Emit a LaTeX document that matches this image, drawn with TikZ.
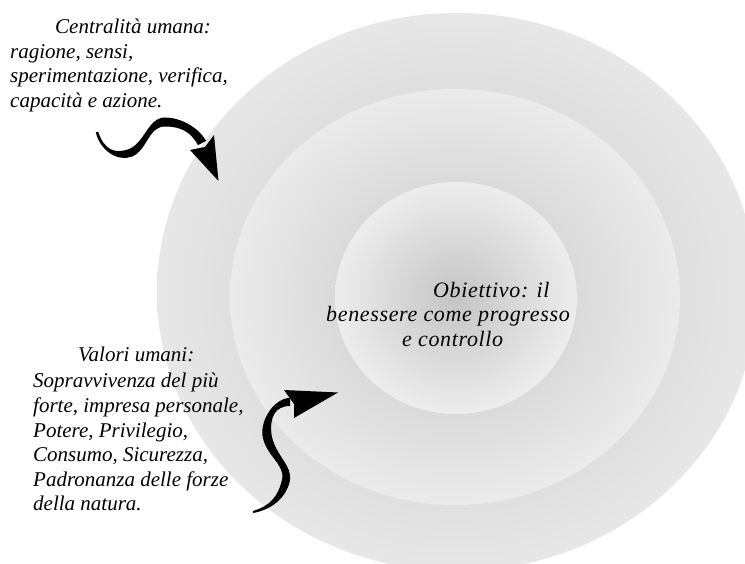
\documentclass[tikz,border=0pt]{standalone}
\usepackage{fontspec}
\setmainfont{Liberation Serif}
\newfontfamily\ctrfont[LetterSpace=3]{Liberation Serif}
\definecolor{outIn}{RGB}{200,200,200}
\definecolor{outOut}{RGB}{231,231,231}
\definecolor{midIn}{RGB}{198,198,198}
\definecolor{midOut}{RGB}{235,235,235}
\definecolor{innIn}{RGB}{196,196,196}
\definecolor{innOut}{RGB}{237,237,237}
\begin{document}
\begin{tikzpicture}[x=1pt,y=-1pt,
  lbl/.style={font=\fontsize{21}{24.5}\selectfont\itshape, inner sep=0pt, anchor=base west},
  ctr/.style={font=\ctrfont\fontsize{22}{24}\selectfont\itshape, inner sep=0pt, anchor=base west},
  arrowbody/.style={fill=black, draw=none}]
\useasboundingbox (0,0) rectangle (745,564);
\fill[white] (0,0) rectangle (745,564);
\begin{scope}
  \clip (0,0) rectangle (745,564);
  \shade[inner color=outIn, outer color=outOut] (457,292) ellipse [x radius=300, y radius=279];
  \shade[inner color=midIn, outer color=midOut] (455,297) ellipse [x radius=225, y radius=208];
  \shade[inner color=innIn, outer color=innOut] (456,298) ellipse [x radius=121, y radius=116];
\end{scope}

% upper arrow
\fill[arrowbody] (95.8,132.3) .. controls (100.1,150.5) and (117.4,161.8) .. (131.4,156.8)
  .. controls (147.4,150.8) and (148,126.5) .. (165,126.5)
  .. controls (181,126.5) and (191,132.1) .. (198,145.1)
  -- (206,140.9)
  .. controls (199,127.9) and (181,117.5) .. (165,117.5)
  .. controls (148,117.5) and (144.6,143.2) .. (128.6,149.2)
  .. controls (114.6,154.2) and (103.9,149.5) .. (98.2,131.7) -- cycle;
\fill[arrowbody] (190,150) -- (218.5,181) -- (214,135) -- (205,147) -- cycle;

% lower arrow
\fill[arrowbody] (253.2,513) .. controls (270.5,509.9) and (285.9,498.8) .. (289.9,480.8)
  .. controls (292.9,465.8) and (274.5,454.4) .. (271.5,434.4)
  .. controls (269.5,417.4) and (275,406) .. (290,406)
  -- (290,398)
  .. controls (275,398) and (260.5,418.6) .. (262.5,435.6)
  .. controls (265.5,455.6) and (285.1,464.2) .. (282.1,479.2)
  .. controls (278.1,497.2) and (269.5,506.1) .. (252.8,511) -- cycle;
\fill[arrowbody] (284,390) -- (338,392.5) -- (294,418) -- (294,404) -- cycle;

% upper text
\node[lbl] (c1) at (55,34) {Centralità umana:};
\node[lbl] (c2) at (10,58.5) {ragione, sensi,};
\node[lbl] (c3) at (10,83) {sperimentazione, verifica,};
\node[lbl] (c4) at (10,107.5) {capacità e azione.};

% lower text
\node[lbl] (v1) at (78,362) {Valori umani:};
\node[lbl] (v2) at (33,387) {Sopravvivenza del più};
\node[lbl] (v3) at (33,412) {forte, impresa personale,};
\node[lbl] (v4) at (33,437) {Potere, Privilegio,};
\node[lbl] (v5) at (33,461) {Consumo, Sicurezza,};
\node[lbl] (v6) at (33,486) {Padronanza delle forze};
\node[lbl] (v7) at (33,510) {della natura.};

% centre text
\node[ctr] (o1) at (433,298) {Obiettivo: il};
\node[ctr] (o2) at (326,322) {benessere come progresso};
\node[ctr] (o3) at (402,346) {e controllo};
\end{tikzpicture}
\end{document}
